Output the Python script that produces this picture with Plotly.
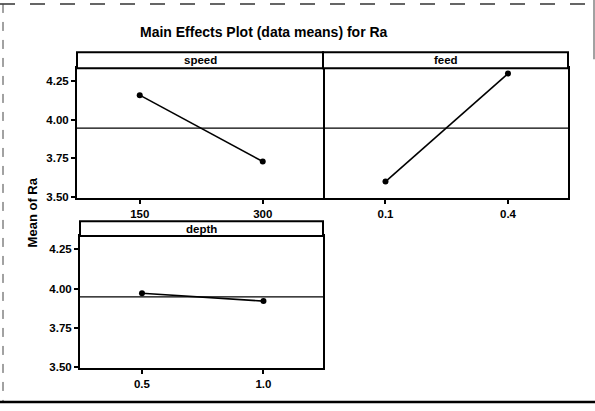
import numpy as np
import plotly.graph_objects as go

# Level means of Ra for each factor
speed_levels = ["150", "300"]
speed_means = [4.16, 3.73]
feed_levels = ["0.1", "0.4"]
feed_means = [3.60, 4.30]
depth_levels = ["0.5", "1.0"]
depth_means = [3.97, 3.92]

y_ticks = [3.50, 3.75, 4.00, 4.25]
grand_mean = float(np.mean(speed_means + feed_means + depth_means))

W, H = 595, 411


def px(x):
    return x / W


def py(y):
    return 1 - y / H


FONT = "Liberation Sans"
Y_RANGE = [3.493, 4.335]

fig = go.Figure()

panels = [
    ("x", "y", speed_levels, speed_means),
    ("x2", "y2", feed_levels, feed_means),
    ("x3", "y3", depth_levels, depth_means),
]
for xa, ya, lv, mv in panels:
    fig.add_trace(go.Scatter(
        x=lv, y=mv, xaxis=xa, yaxis=ya, mode="lines+markers",
        line=dict(color="black", width=1.6),
        marker=dict(color="black", size=6, symbol="circle"),
        showlegend=False, hoverinfo="skip",
    ))

tickfont = dict(family=FONT, size=11.5, color="black", weight="bold")
axis_common = dict(
    showline=True, linecolor="black", linewidth=2, mirror=True,
    showgrid=False, zeroline=False, ticks="outside", tickcolor="black",
    tickwidth=1.5, ticklen=4, tickfont=tickfont,
)

fig.update_layout(
    width=W, height=H, margin=dict(l=0, r=0, t=0, b=0),
    paper_bgcolor="white", plot_bgcolor="white",
    xaxis=dict(domain=[px(77), px(323)], anchor="y", type="category",
               range=[-0.51, 1.49], **axis_common),
    xaxis2=dict(domain=[px(323), px(568)], anchor="y2", type="category",
                range=[-0.51, 1.49], **axis_common),
    xaxis3=dict(domain=[px(80), px(323)], anchor="y3", type="category",
                range=[-0.51, 1.49], **axis_common),
    yaxis=dict(domain=[py(200.5), py(69)], anchor="x", range=Y_RANGE,
               tickvals=y_ticks, tickformat=".2f", **axis_common),
    # feed panel shares the speed panel's left border; only its right edge is drawn
    yaxis2=dict(domain=[py(200.5), py(69)], anchor="x2", range=Y_RANGE,
                side="right", showline=True, mirror=False, linecolor="black",
                linewidth=2, showgrid=False, zeroline=False,
                showticklabels=False, ticks=""),
    yaxis3=dict(domain=[py(372.5), py(239)], anchor="x3", range=Y_RANGE,
                tickvals=y_ticks, tickformat=".2f", **axis_common),
)

shapes = []
annotations = []

# Grand-mean reference line in each panel
for xa, ya in [("x", "y"), ("x2", "y2"), ("x3", "y3")]:
    shapes.append(dict(type="line", xref=f"{xa} domain", yref=ya,
                       x0=0, x1=1, y0=grand_mean, y1=grand_mean,
                       line=dict(color="black", width=1.2)))

# Strip headers above each panel
strips = [
    ("speed", 77, 323, 53, 69),
    ("feed", 323, 568, 53, 69),
    ("depth", 80, 323, 224, 239),
]
for label, x0, x1, y0, y1 in strips:
    shapes.append(dict(type="rect", xref="paper", yref="paper",
                       x0=px(x0), x1=px(x1), y0=py(y1), y1=py(y0),
                       line=dict(color="black", width=2), fillcolor="white"))
    annotations.append(dict(text=label, xref="paper", yref="paper",
                            x=px((x0 + x1) / 2), y=py((y0 + y1) / 2),
                            showarrow=False, xanchor="center", yanchor="middle",
                            font=dict(family=FONT, size=11.5, color="black", weight="bold")))

# Page frame
shapes += [
    dict(type="line", xref="paper", yref="paper", x0=0, x1=px(593), y0=py(4), y1=py(4),
         line=dict(color="#333", width=1.5, dash="longdash")),
    dict(type="line", xref="paper", yref="paper", x0=px(3), x1=px(3), y0=py(4), y1=py(407),
         line=dict(color="#444", width=1, dash="dash")),
    dict(type="line", xref="paper", yref="paper", x0=0, x1=1, y0=py(407), y1=py(407),
         line=dict(color="black", width=2.5)),
    dict(type="line", xref="paper", yref="paper", x0=px(594), x1=px(594), y0=py(0), y1=py(60),
         line=dict(color="#444", width=1)),
]

annotations += [
    dict(text="Main Effects Plot (data means) for Ra", xref="paper", yref="paper",
         x=px(264), y=py(32), showarrow=False, xanchor="center", yanchor="middle",
         font=dict(family=FONT, size=14, color="black", weight="bold")),
    dict(text="Mean of Ra", xref="paper", yref="paper", textangle=-90,
         x=px(32), y=py(215), showarrow=False, xanchor="center", yanchor="middle",
         font=dict(family=FONT, size=13, color="black", weight="bold")),
]

fig.update_layout(shapes=shapes, annotations=annotations)
fig.write_html("out.html")
